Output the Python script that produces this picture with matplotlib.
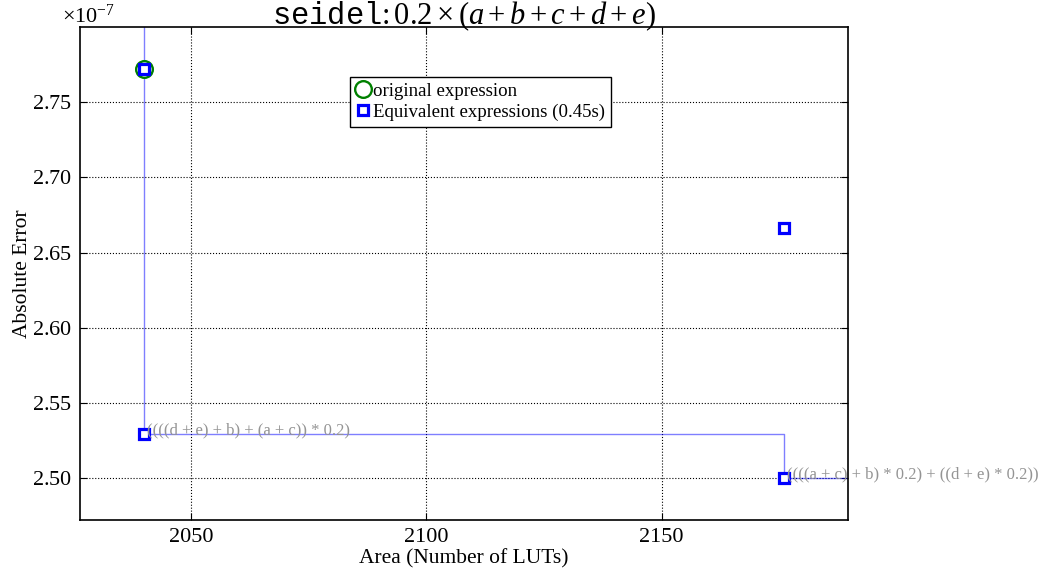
import numpy as np
import matplotlib
matplotlib.use('Agg')
import matplotlib.pyplot as plt
from matplotlib.ticker import ScalarFormatter, MultipleLocator

plt.rcParams['font.family'] = ['Liberation Serif', 'DejaVu Serif']
plt.rcParams['mathtext.fontset'] = 'custom'
plt.rcParams['mathtext.rm'] = 'Liberation Serif'
plt.rcParams['mathtext.it'] = 'Liberation Serif:italic'
plt.rcParams['mathtext.tt'] = 'Liberation Mono'
plt.rcParams['mathtext.fallback'] = 'stix'

# data
orig_area = [2040]
orig_err = [2.7721e-7]
equiv_area = [2040, 2040, 2176, 2176]
equiv_err = [2.7721e-7, 2.5295e-7, 2.6661e-7, 2.5003e-7]
front_area = [2040, 2176]
front_err = [2.5295e-7, 2.5003e-7]
front_labels = ['((((d + e) + b) + (a + c)) * 0.2)',
                '((((a + c) + b) * 0.2) + ((d + e) * 0.2))']

xmin, xmax = 2026.4, 2189.6
ymin, ymax = 2.4724e-7, 2.7996e-7

fig = plt.figure(figsize=(10.45, 5.73), dpi=100)
ax = fig.add_axes([0.0766, 0.0925, 0.7349, 0.86])

# pareto step line, extended to the axes edges
sx = [front_area[0], front_area[0], front_area[1], front_area[1], xmax]
sy = [ymax, front_err[0], front_err[0], front_err[1], front_err[1]]
ax.plot(sx, sy, color='blue', alpha=0.5, lw=1, zorder=2)

ax.plot(orig_area, orig_err, 'o', ms=12, mfc='white', mec='green', mew=1.7,
        label='original expression', zorder=3)
ax.plot(equiv_area, equiv_err, 's', ms=6.5, mfc='white', mec='blue', mew=2.3,
        label='Equivalent expressions (0.45s)', zorder=4)

for x, y, t in zip(front_area, front_err, front_labels):
    ax.text(x + 0.6, y, t, color='0.58', fontsize=12, zorder=5, clip_on=False)

ax.set_xlim(xmin, xmax)
ax.set_ylim(ymin, ymax)
ax.xaxis.set_major_locator(MultipleLocator(50))
ax.yaxis.set_major_locator(MultipleLocator(0.05e-7))
fmt = ScalarFormatter(useMathText=True)
fmt.set_powerlimits((-3, 3))
ax.yaxis.set_major_formatter(fmt)
off = ax.yaxis.get_offset_text()
off.set_fontsize(16)
off.set_x(-0.024)

ax.grid(True, color='black', linestyle=':', linewidth=0.8)
ax.tick_params(direction='in', top=True, right=True, labelsize=16, length=5, pad=6)
for s in ax.spines.values():
    s.set_linewidth(1.2)

ax.set_xlabel('Area (Number of LUTs)', fontsize=15.5, labelpad=1)
ax.set_ylabel('Absolute Error', fontsize=15.5, labelpad=0)
ax.set_title(r'$\mathtt{seidel}$:$\,0.2\times(a+b+c+d+e)$', fontsize=22, pad=2)

leg = ax.legend(loc='upper left', bbox_to_anchor=(0.352, 0.899), borderaxespad=0,
                numpoints=1, fontsize=13.6, handlelength=0.7, handletextpad=0.2,
                borderpad=0.3, labelspacing=0.2, fancybox=False, framealpha=1,
                edgecolor='black')
leg.get_frame().set_linewidth(1)

fig.savefig('out.png', dpi=100)
